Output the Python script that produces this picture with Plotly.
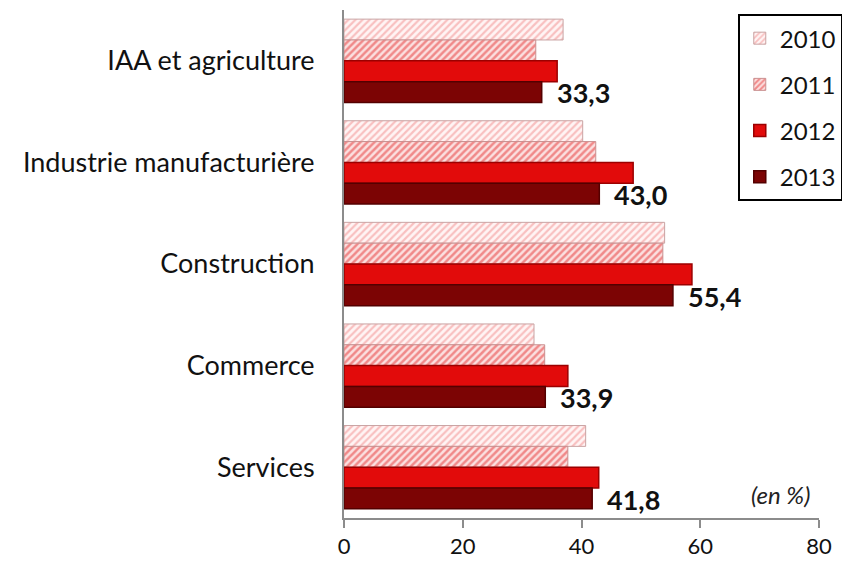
import plotly.graph_objects as go

categories = ["IAA et agriculture", "Industrie manufacturière", "Construction", "Commerce", "Services"]
years = ["2010", "2011", "2012", "2013"]
v2010 = [36.9, 40.2, 54.0, 32.0, 40.7]
v2011 = [32.3, 42.4, 53.7, 33.8, 37.7]
v2012 = [35.9, 48.7, 58.6, 37.7, 42.9]
v2013 = [33.3, 43.0, 55.4, 33.9, 41.8]
x_ticks = [0, 20, 40, 60, 80]

series = [v2010, v2011, v2012, v2013]

styles = [
    dict(color="#fdeaea", line=dict(color="#c9a3a3", width=1),
         pattern=dict(shape="/", fgcolor="#f28c8c", bgcolor="#fff4f4", size=5, solidity=0.45)),
    dict(color="#f9d4d4", line=dict(color="#c99090", width=1),
         pattern=dict(shape="/", fgcolor="#e63232", bgcolor="#fbe0e0", size=5, solidity=0.5)),
    dict(color="#e20b0b", line=dict(color="#9c0000", width=1.5)),
    dict(color="#7c0404", line=dict(color="#540000", width=1.5)),
]

fig = go.Figure()
for i, (yr, vals) in enumerate(zip(years, series)):
    fig.add_trace(go.Bar(
        y=categories, x=vals, name=yr, orientation="h",
        marker=styles[i], legendgroup=yr,
    ))

font_family = "Lato, 'Open Sans', sans-serif"

annotations = []
for cat, v in zip(categories, v2013):
    annotations.append(dict(
        x=v, y=cat, xref="x", yref="y", text="<b>" + f"{v:.1f}".replace(".", ",") + "</b>",
        showarrow=False, xanchor="left", yanchor="middle", xshift=13, yshift=-32,
        font=dict(size=27, color="#111111", family=font_family),
    ))
annotations.append(dict(
    x=0.985, y=0.047, xref="paper", yref="paper", text="<i>(en %)</i>",
    showarrow=False, xanchor="right", yanchor="middle",
    font=dict(size=24, color="#222222", family=font_family),
))

fig.update_layout(
    width=850, height=561,
    margin=dict(l=336, r=39, t=2, b=51),
    paper_bgcolor="white", plot_bgcolor="white",
    barmode="group", bargap=0.18, bargroupgap=0,
    font=dict(family=font_family, size=24, color="#111111"),
    showlegend=True,
    legend=dict(
        x=0.829, y=0.992, xanchor="left", yanchor="top",
        bordercolor="black", borderwidth=2, bgcolor="white",
        tracegroupgap=12, font=dict(size=24, color="#111111"),
        traceorder="grouped",
    ),
    annotations=annotations,
)
fig.update_xaxes(
    range=[0, 80], tickvals=x_ticks, ticktext=[str(t) for t in x_ticks],
    showgrid=False, zeroline=False, showline=True, linecolor="#8c8c8c", linewidth=2,
    ticks="outside", ticklen=8, tickcolor="#8c8c8c", tickwidth=2,
    tickfont=dict(size=22, color="#111111"),
)
fig.update_yaxes(
    autorange="reversed", showgrid=False, showline=True, linecolor="#8c8c8c", linewidth=2,
    ticks="", ticklabelstandoff=22, tickfont=dict(size=27, color="#111111"),
)

fig.write_html("out.html")
